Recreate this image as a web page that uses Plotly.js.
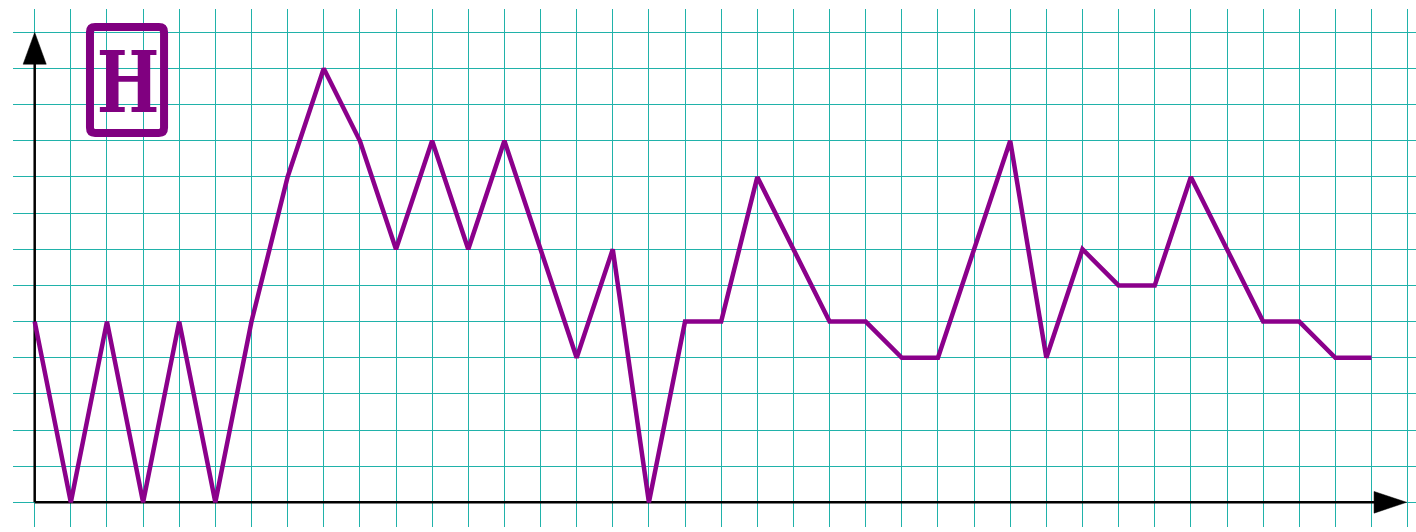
<!DOCTYPE html>
<html>
<head>
<meta charset="utf-8">
<script src="https://cdn.plot.ly/plotly-3.0.1.min.js"></script>
<style>html,body{margin:0;padding:0;background:#fff;}#chart{width:1416px;height:532px;}</style>
</head>
<body>
<div id="chart"></div>
<script>
const xIndex = [0,1,2,3,4,5,6,7,8,9,10,11,12,13,14,15,16,17,18,19,20,21,22,23,24,25,26,27,28,29,30,31,32,33,34,35,36,37];
const values = [5,0,5,0,5,0,5,9,12,10,7,10,7,10,7,4,7,0,5,5,9,7,5,5,4,4,7,10,4,7,6,6,9,7,5,5,4,4];
const iconLabel = 'H';

const lineColor = '#8B008B';
const gridColor = '#20B2AA';
const iconColor = '#800080';

const trace = {
  x: xIndex, y: values, type: 'scatter', mode: 'lines',
  line: {color: lineColor, width: 4.5}, hoverinfo: 'skip'
};

const r = 0.14;
const bx0 = 1.53, bx1 = 3.58, by0 = 10.22, by1 = 13.15;
const boxPath = `M ${bx0+r},${by1} L ${bx1-r},${by1} Q ${bx1},${by1} ${bx1},${by1-r} L ${bx1},${by0+r} Q ${bx1},${by0} ${bx1-r},${by0} L ${bx0+r},${by0} Q ${bx0},${by0} ${bx0},${by0+r} L ${bx0},${by1-r} Q ${bx0},${by1} ${bx0+r},${by1} Z`;

const layout = {
  width: 1416, height: 532,
  margin: {l: 13, r: 0, t: 9, b: 5},
  paper_bgcolor: '#fff', plot_bgcolor: '#fff',
  showlegend: false,
  xaxis: {range: [-0.6006, 38.231], dtick: 1, tick0: 0, showgrid: true, gridcolor: gridColor, gridwidth: 1,
          zeroline: false, showticklabels: false, ticks: '', showline: false, fixedrange: true},
  yaxis: {range: [-0.683, 13.647], dtick: 1, tick0: 0, showgrid: true, gridcolor: gridColor, gridwidth: 1,
          zeroline: false, showticklabels: false, ticks: '', showline: false, fixedrange: true},
  shapes: [
    {type: 'line', xref: 'x', yref: 'y', x0: 0, y0: 0, x1: 37.1, y1: 0, line: {color: '#000', width: 2.5}, layer: 'between'},
    {type: 'line', xref: 'x', yref: 'y', x0: 0, y0: 0, x1: 0, y1: 12.15, line: {color: '#000', width: 2.5}, layer: 'between'},
    {type: 'path', xref: 'x', yref: 'y', path: 'M 37.07,-0.3 L 37.07,0.3 L 37.97,0 Z', fillcolor: '#000', line: {color: '#000', width: 0.5}, layer: 'between'},
    {type: 'path', xref: 'x', yref: 'y', path: 'M -0.32,12.12 L 0.32,12.12 L 0,13.0 Z', fillcolor: '#000', line: {color: '#000', width: 0.5}, layer: 'between'},
    {type: 'path', xref: 'x', yref: 'y', path: boxPath, fillcolor: 'rgba(0,0,0,0)', line: {color: iconColor, width: 8}, layer: 'above'}
  ],
  annotations: [
    {xref: 'x', yref: 'y', x: 2.57, y: 11.64, text: '<b>' + iconLabel + '</b>', showarrow: false,
     xanchor: 'center', yanchor: 'middle', font: {family: 'DejaVu Serif', size: 85, color: iconColor}}
  ]
};

Plotly.newPlot('chart', [trace], layout, {staticPlot: true, displayModeBar: false}).then(function (gd) {
  gd.querySelectorAll('.annotation-text').forEach(function (t) {
    t.style.transformBox = 'fill-box';
    t.style.transformOrigin = 'center';
    t.style.transform = 'scaleX(0.78)';
  });
});
</script>
</body>
</html>
